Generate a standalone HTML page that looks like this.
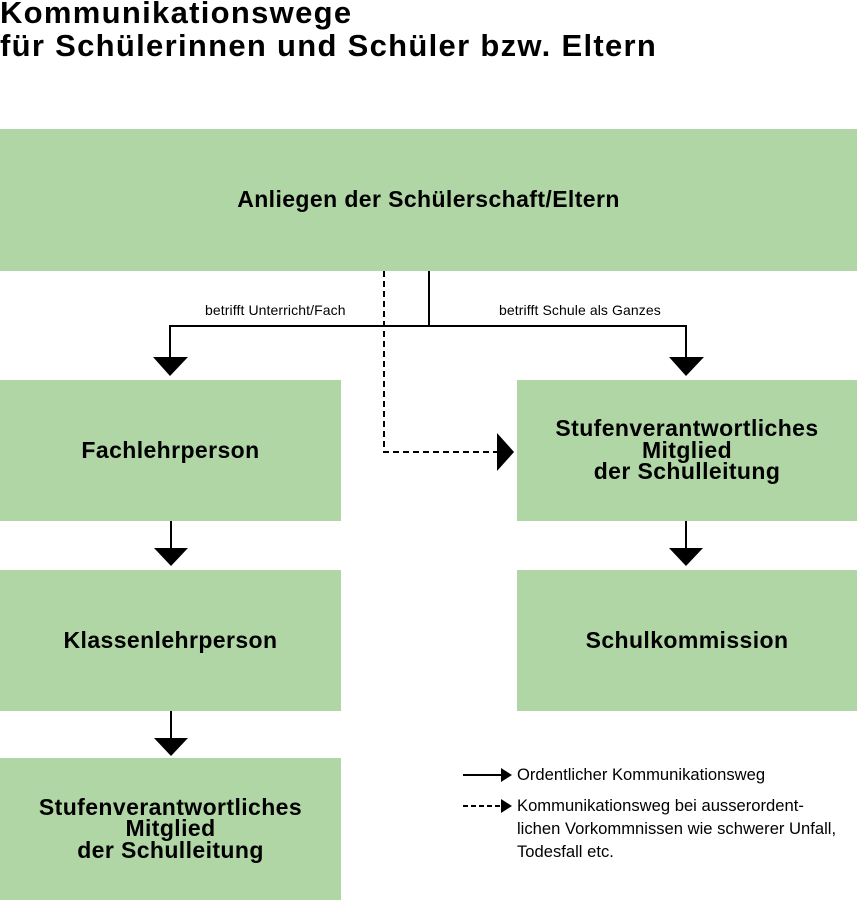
<!DOCTYPE html>
<html><head><meta charset="utf-8"><style>
body{margin:0;width:857px;height:900px;background:#fff;position:relative;overflow:hidden;font-family:"Liberation Sans",Arial,sans-serif;}
.t{position:absolute;left:0;top:-4px;font-weight:bold;font-size:31px;line-height:33px;letter-spacing:1.3px;}
.b{position:absolute;background:#b0d6a5;display:flex;align-items:center;justify-content:center;text-align:center;font-weight:bold;font-size:23px;line-height:21.5px;letter-spacing:0.4px;}
.lab{position:absolute;font-size:14px;letter-spacing:0.1px;}
.lg{position:absolute;left:517px;font-size:16.6px;line-height:23px;}
</style></head><body>
<div class="t">Kommunikationswege<br>für Schülerinnen und Schüler bzw. Eltern</div>
<div class="b" style="left:0;top:129px;width:857px;height:142px">Anliegen der Schülerschaft/Eltern</div>
<div class="b" style="left:0;top:380px;width:341px;height:141px">Fachlehrperson</div>
<div class="b" style="left:0;top:570px;width:341px;height:141px">Klassenlehrperson</div>
<div class="b" style="left:0;top:758px;width:341px;height:142px">Stufenverantwortliches<br>Mitglied<br>der Schulleitung</div>
<div class="b" style="left:517px;top:380px;width:340px;height:141px">Stufenverantwortliches<br>Mitglied<br>der Schulleitung</div>
<div class="b" style="left:517px;top:570px;width:340px;height:141px">Schulkommission</div>
<div class="lab" style="left:205px;top:302px">betrifft Unterricht/Fach</div>
<div class="lab" style="left:499px;top:302px">betrifft Schule als Ganzes</div>
<svg width="857" height="900" style="position:absolute;left:0;top:0">
<g stroke="#000" stroke-width="2" fill="none">
<path d="M429 271V326M170 326H686M170 325V357M686 325V357"/>
<path d="M384 271V452H497" stroke-dasharray="6,4"/>
<path d="M171 521V549M171 711V739M686 521V549"/>
<path d="M463 775H502"/>
<path d="M463 806H502" stroke-dasharray="5,3"/>
</g>
<g fill="#000">
<polygon points="153,357 188,357 170,376"/>
<polygon points="669,357 704,357 686,376"/>
<polygon points="497,433 497,471 514,452"/>
<polygon points="154,548 188,548 171,566"/>
<polygon points="154,738 188,738 171,756"/>
<polygon points="669,548 703,548 686,566"/>
<polygon points="501,768 501,782 512,775"/>
<polygon points="501,799 501,813 512,806"/>
</g>
</svg>
<div class="lg" style="top:763px">Ordentlicher Kommunikationsweg</div>
<div class="lg" style="top:794px">Kommunikationsweg bei ausserordent-<br>lichen Vorkommnissen wie schwerer Unfall,<br>Todesfall etc.</div>
</body></html>
